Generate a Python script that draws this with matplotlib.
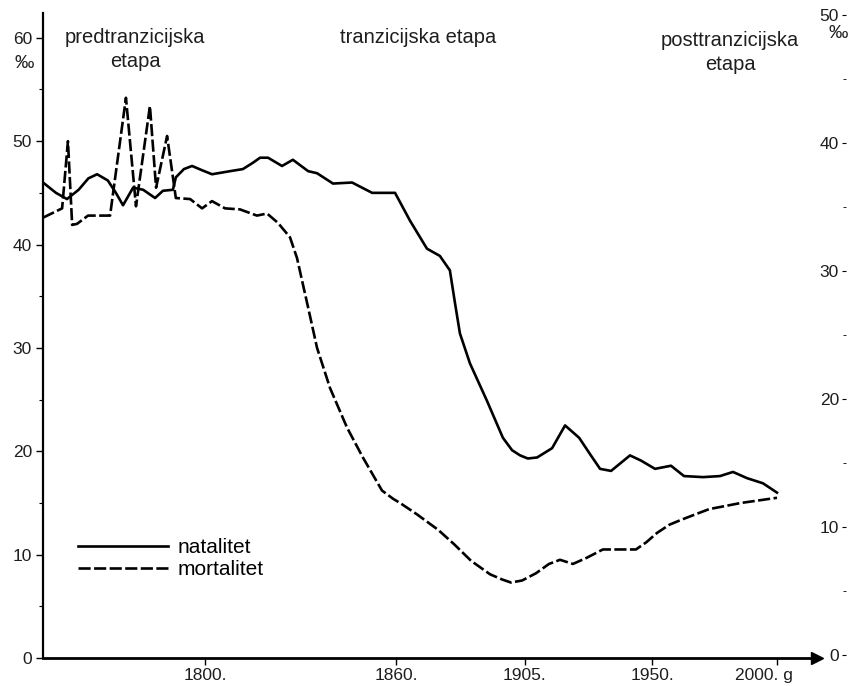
import numpy as np
import matplotlib
matplotlib.use("Agg")
import matplotlib.pyplot as plt
import matplotlib.transforms as mtransforms

plt.rcParams['font.family'] = ['Liberation Sans', 'DejaVu Sans']

# natalitet (solid line), years and per mille
years_nat = [1750, 1754.0, 1757.4, 1761.0, 1764.0, 1766.7, 1770.0, 1772.5, 1774.7,
             1777.8, 1780.9, 1784.6, 1787.0, 1790.1, 1791.0, 1793.5, 1796.0, 1799.0,
             1802.2, 1807.9, 1811.9, 1815.0, 1817.3, 1819.8, 1824.2, 1827.6, 1832.4,
             1835.2, 1840.2, 1846.2, 1852.5, 1859.7, 1864.9, 1870.8, 1875.3, 1878.8,
             1880.6, 1882.3, 1885.8, 1891.7, 1897.3, 1900.5, 1903.3, 1906.0, 1909.3,
             1914.6, 1919.2, 1924.2, 1928.1, 1931.6, 1935.5, 1942.2, 1946.1, 1951.2,
             1957.6, 1962.8, 1970.4, 1977.2, 1982.4, 1988.0, 1994.4, 2000]
natalitet = [46.0, 45.0, 44.4, 45.3, 46.4, 46.8, 46.2, 45.0, 43.8,
             45.5, 45.3, 44.5, 45.2, 45.3, 46.5, 47.3, 47.6, 47.2,
             46.8, 47.1, 47.3, 47.9, 48.4, 48.4, 47.6, 48.2, 47.1,
             46.9, 45.9, 46.0, 45.0, 45.0, 42.3, 39.6, 38.9, 37.5,
             34.3, 31.4, 28.5, 24.9, 21.3, 20.1, 19.6, 19.3, 19.4,
             20.3, 22.5, 21.3, 19.7, 18.3, 18.1, 19.6, 19.1, 18.3,
             18.6, 17.6, 17.5, 17.6, 18.0, 17.4, 16.9, 16.0]

# mortalitet (dashed line)
years_mort = [1750, 1755.9, 1757.7, 1759.0, 1760.5, 1763.9, 1770.7, 1771.6, 1775.6,
              1778.7, 1783.0, 1784.9, 1788.3, 1791.0, 1795.4, 1799.1, 1802.2, 1806.3,
              1811.0, 1816.3, 1819.5, 1822.9, 1826.7, 1828.9, 1830.5, 1832.4, 1835.2,
              1839.3, 1844.6, 1849.6, 1855.6, 1859.1, 1861.4, 1867.3, 1874.7, 1880.3,
              1886.2, 1892.8, 1897.0, 1900.1, 1904.0, 1908.9, 1913.5, 1917.4, 1922.0,
              1926.9, 1932.6, 1944.3, 1948.0, 1952.0, 1957.0, 1962.0, 1972.8, 1985.6, 2000]
mortalitet = [42.6, 43.5, 50.0, 41.9, 42.0, 42.8, 42.8, 44.9, 54.2,
              43.7, 53.4, 45.5, 50.5, 44.5, 44.4, 43.5, 44.2, 43.5,
              43.4, 42.8, 43.0, 42.1, 40.7, 38.7, 36.5, 33.9, 30.0,
              26.1, 22.3, 19.4, 16.2, 15.4, 15.0, 13.9, 12.4, 11.0,
              9.4, 8.1, 7.6, 7.3, 7.5, 8.2, 9.1, 9.5, 9.1,
              9.7, 10.5, 10.5, 11.2, 12.1, 12.9, 13.4, 14.4, 15.0, 15.5]

tick_years = [1800, 1860, 1905, 1950, 2000]
tick_labels = ["1800.", "1860.", "1905.", "1950.", "2000. g"]
left_ticks = [0, 10, 20, 30, 40, 50, 60]
right_ticks = [0, 10, 20, 30, 40, 50]
stages = ["predtranzicijska\netapa", "tranzicijska etapa", "posttranzicijska\netapa"]
legend_labels = ["natalitet", "mortalitet"]

# the time axis of the drawing is not uniform: piecewise linear scale
scale_years = [1750, 1800, 1860, 1905, 1950, 2000, 2025]
scale_pos = [43, 205, 396, 525, 652, 777, 877]


def fwd(x):
    return np.interp(x, scale_years, scale_pos)


def inv(x):
    return np.interp(x, scale_pos, scale_years)


W, H = 848, 686
txt_col = '#1e1e1e'
fig = plt.figure(figsize=(W / 100, H / 100), dpi=100)
ax = fig.add_axes([43 / W, 1 - 658 / H, (817 - 43) / W, (658 - 13) / H])
ax.set_xscale('function', functions=(fwd, inv))
ax.set_xlim(1750, 2010)
ax.set_ylim(0, 62.4)

l1, = ax.plot(years_nat, natalitet, color='black', lw=1.9, solid_joinstyle='round')
l2, = ax.plot(years_mort, mortalitet, color='black', lw=1.9, dashes=(4.6, 1.3))

for s in ['top', 'right']:
    ax.spines[s].set_visible(False)
ax.spines['left'].set_linewidth(1.6)
ax.spines['bottom'].set_linewidth(2.0)
ax.plot(1, 0, '>', color='black', ms=8, transform=ax.transAxes, clip_on=False)

ax.set_xticks(tick_years)
ax.set_xticklabels(tick_labels)
ax.xaxis.set_minor_locator(plt.NullLocator())
ax.tick_params(axis='x', length=5, width=1, labelsize=12.5, pad=2, labelcolor=txt_col)
lab = ax.get_xticklabels()[-1]
lab.set_transform(lab.get_transform() + mtransforms.ScaledTranslation(-0.13, 0, fig.dpi_scale_trans))

ax.set_yticks(left_ticks)
ax.set_yticks(np.arange(5, 60, 10), minor=True)
ax.tick_params(axis='y', which='major', length=5, width=1, labelsize=12.5, pad=3, labelcolor=txt_col)
ax.tick_params(axis='y', which='minor', length=3, width=0.8)
fig.text(24 / W, 1 - 63 / H, "‰", ha='center', va='center', fontsize=14, color=txt_col)

# right-hand scale
ax2 = fig.add_axes([846 / W, 1 - 655 / H, 0.0005, (655 - 15) / H])
ax2.set_ylim(0, 50)
ax2.set_xticks([])
for s in ax2.spines.values():
    s.set_visible(False)
ax2.set_yticks(right_ticks)
ax2.set_yticks(np.arange(5, 50, 10), minor=True)
ax2.tick_params(axis='y', which='major', length=3, width=0.8, labelsize=12.5, pad=2, labelcolor=txt_col)
ax2.tick_params(axis='y', which='minor', length=2, width=0.6)
fig.text(838 / W, 1 - 33 / H, "‰", ha='center', va='center', fontsize=14, color=txt_col)

# stage labels
fig.text(135 / W, 1 - 28 / H, stages[0], ha='center', va='top', fontsize=14.5,
         color=txt_col, linespacing=1.35)
fig.text(418 / W, 1 - 28 / H, stages[1], ha='center', va='top', fontsize=14.5,
         color=txt_col)
fig.text(730 / W, 1 - 31 / H, stages[2], ha='center', va='top', fontsize=14.5,
         color=txt_col, linespacing=1.35)

ax.legend([l1, l2], legend_labels, loc='upper left',
          bbox_to_anchor=(70 / W, 1 - 530 / H), bbox_transform=fig.transFigure,
          frameon=False, fontsize=15, handlelength=4.3, handletextpad=0.45,
          labelspacing=0.15, borderaxespad=0)

fig.savefig("out.png", dpi=100)
